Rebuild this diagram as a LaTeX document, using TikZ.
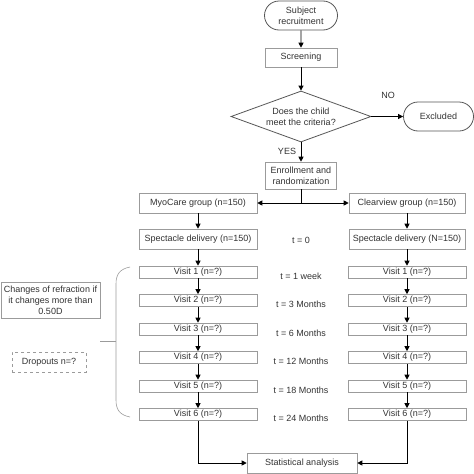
\documentclass[tikz,border=0pt]{standalone}
\usepackage{fontspec}
\setmainfont{Liberation Sans}
\usepackage{tikz}
\usetikzlibrary{shapes.geometric}
\usetikzlibrary{shapes.misc}
\usetikzlibrary{arrows.meta}
\usepackage{xcolor}
\definecolor{boxgrey}{RGB}{155,155,155}
\definecolor{edgegrey}{RGB}{85,85,85}
\definecolor{txtgrey}{RGB}{50,50,50}

\begin{document}
\begin{tikzpicture}[x=1pt, y=-1pt, font=\fontsize{9}{11}\selectfont, text=txtgrey,
	greybox/.style={draw=boxgrey, line width=0.6pt, inner sep=0pt, align=center},
	mainbox/.style={greybox, minimum width=118pt, minimum height=20pt},
	visitbox/.style={greybox, minimum width=118pt, minimum height=12pt},
	roundbox/.style={draw=edgegrey, line width=0.8pt, rounded rectangle, inner sep=0pt, align=center},
	flow/.style={-{Triangle[length=5pt,width=5pt]}, line width=0.8pt}]
	\useasboundingbox (0,0) rectangle (474,474);
	
	% top of the chart
	\node[roundbox, minimum width=73pt, minimum height=29pt] (recruit) at (301,15.5) {Subject\\recruitment};
	\node[greybox, minimum width=72pt, minimum height=19pt] (screen) at (301,57.5) {Screening};
	\node[diamond, draw=edgegrey, line width=0.8pt, minimum width=140pt, minimum height=51pt, inner sep=0pt, aspect=2.75, align=center] (check) at (301,116.5) {Does the child\\meet the criteria?};
	\node[roundbox, minimum width=70pt, minimum height=29pt] (excl) at (438.5,116.5) {Excluded};
	\node[] (no) at (388,95) {NO};
	\node[] (yes) at (287,151) {YES};
	\node[greybox, minimum width=71pt, minimum height=27pt] (enroll) at (301,175.5) {Enrollment and\\randomization};
	\coordinate (split) at (301,203);
	
	% the two groups
	\node[mainbox] (myo) at (198,203) {MyoCare group (n=150)};
	\node[mainbox, minimum width=116pt] (clear) at (407,203) {Clearview group (n=150)};
	\node[mainbox] (specL) at (198,239) {Spectacle delivery (n=150)};
	\node[mainbox, minimum width=116pt] (specR) at (407,239) {Spectacle delivery (N=150)};
	\node[] (t0) at (301,240) {t = 0};
	
	\node[visitbox] (v1L) at (198,272) {Visit 1 (n=?)};
	\node[visitbox] (v2L) at (198,300.5) {Visit 2 (n=?)};
	\node[visitbox] (v3L) at (198,329) {Visit 3 (n=?)};
	\node[visitbox] (v4L) at (198,357.5) {Visit 4 (n=?)};
	\node[visitbox] (v5L) at (198,386) {Visit 5 (n=?)};
	\node[visitbox] (v6L) at (198,414.5) {Visit 6 (n=?)};
	
	\node[visitbox] (v1R) at (407,272) {Visit 1 (n=?)};
	\node[visitbox] (v2R) at (407,300.5) {Visit 2 (n=?)};
	\node[visitbox] (v3R) at (407,329) {Visit 3 (n=?)};
	\node[visitbox] (v4R) at (407,357.5) {Visit 4 (n=?)};
	\node[visitbox] (v5R) at (407,386) {Visit 5 (n=?)};
	\node[visitbox] (v6R) at (407,414.5) {Visit 6 (n=?)};
	
	\node[] (t1) at (301,276) {t = 1 week};
	\node[] (t2) at (301,304.5) {t = 3 Months};
	\node[] (t3) at (301,333) {t = 6 Months};
	\node[] (t4) at (301,361.5) {t = 12 Months};
	\node[] (t5) at (301,390) {t = 18 Months};
	\node[] (t6) at (301,418.5) {t = 24 Months};
	
	\node[greybox, minimum width=110pt, minimum height=20pt] (stat) at (302,463) {Statistical analysis};
	\draw[boxgrey, line width=1.6pt] (stat.south west) -- (stat.south east);
	
	% notes on the left
	\node[greybox, minimum width=99pt, minimum height=36pt] (refr) at (50.5,300) {Changes of refraction if\\it changes more than\\0.50D};
	\node[greybox, dashed, minimum width=74pt, minimum height=20pt] (drop) at (49,362) {Dropouts n=?};
	\coordinate (tip) at (100,341);
	\draw[boxgrey, line width=0.6pt] (130,267) .. controls (120,269) and (116,274) .. (116,284) -- (116,400) .. controls (116,410) and (120,415) .. (130,417);
	\draw[boxgrey, line width=0.6pt] (tip) -- (116,341);
	
	% arrows
	\draw[flow] (recruit) -- (screen);
	\draw[flow] (screen) -- (check);
	\draw[flow] (check) -- (excl);
	\draw[flow] (check) -- (enroll);
	\draw[line width=0.8pt] (enroll) -- (split);
	\draw[flow] (split) -- (myo);
	\draw[flow] (split) -- (clear);
	
	\draw[flow] (myo) -- (specL);
	\draw[flow] (specL) -- (v1L);
	\draw[flow] (v1L) -- (v2L);
	\draw[flow] (v2L) -- (v3L);
	\draw[flow] (v3L) -- (v4L);
	\draw[flow] (v4L) -- (v5L);
	\draw[flow] (v5L) -- (v6L);
	\draw[flow] (v6L) |- (stat);
	
	\draw[flow] (clear) -- (specR);
	\draw[flow] (specR) -- (v1R);
	\draw[flow] (v1R) -- (v2R);
	\draw[flow] (v2R) -- (v3R);
	\draw[flow] (v3R) -- (v4R);
	\draw[flow] (v4R) -- (v5R);
	\draw[flow] (v5R) -- (v6R);
	\draw[flow] (v6R) |- (stat);
	
\end{tikzpicture}
\end{document}
